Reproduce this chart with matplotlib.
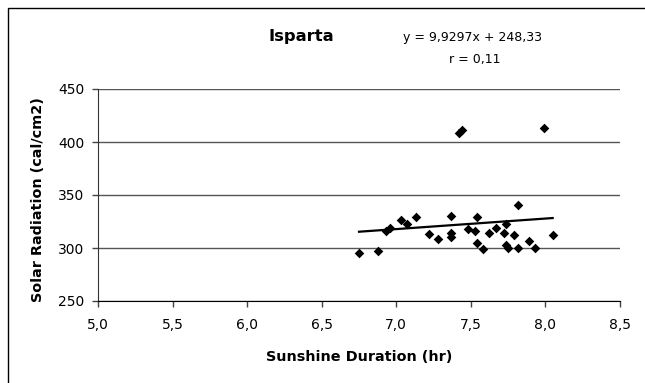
import matplotlib
matplotlib.use("Agg")
import matplotlib.pyplot as plt
import numpy as np
from matplotlib.patches import Rectangle

plt.rcParams['font.family'] = ['DejaVu Sans']

# Data (sunshine duration hr, solar radiation cal/cm2)
sunshine = [6.75, 6.88, 6.93, 6.96, 7.03, 7.07, 7.13, 7.22, 7.28, 7.37, 7.37, 7.37,
            7.48, 7.53, 7.54, 7.54, 7.58, 7.62, 7.67, 7.72, 7.74, 7.74, 7.75, 7.79,
            7.82, 7.82, 7.89, 7.93, 8.05, 7.42, 7.44, 7.99]
radiation = [295.0, 297.5, 316.0, 318.6, 326.4, 322.6, 329.0, 312.9, 308.8, 330.2, 313.8, 310.1,
             317.6, 316.3, 329.0, 304.4, 298.7, 313.8, 318.6, 313.8, 322.6, 302.8, 299.7, 312.3,
             340.3, 299.7, 306.6, 299.7, 312.3, 408.5, 411.5, 413.5]
slope = 9.9297
intercept = 248.33
title = "Isparta"
eq_text = "y = 9,9297x + 248,33"
r_text = "r = 0,11"
xticks = [5.0, 5.5, 6.0, 6.5, 7.0, 7.5, 8.0, 8.5]
yticks = [250, 300, 350, 400, 450]

W, H = 645, 383
fig = plt.figure(figsize=(W/100, H/100), dpi=100)
fig.patch.set_facecolor('white')
ax = fig.add_axes([98.3/W, (H-301)/H, (619.7-98.3)/W, (301-89)/H])

ax.scatter(sunshine, radiation, marker='D', s=24, color='black', zorder=3, linewidths=0)
xs = np.array([min(sunshine), max(sunshine)])
ax.plot(xs, slope*xs + intercept, color='black', lw=1.6, zorder=2)

ax.set_xlim(5.0, 8.5)
ax.set_ylim(250, 450)
ax.set_xticks(xticks)
ax.set_xticklabels([f"{t:.1f}".replace('.', ',') for t in xticks])
ax.set_yticks(yticks)
ax.set_yticklabels([str(t) for t in yticks])
ax.tick_params(axis='both', labelsize=10, length=4, width=1, color='#444444', direction='out')
ax.tick_params(axis='y', pad=6)
ax.tick_params(axis='x', pad=8)
ax.yaxis.grid(True, color='#555555', lw=1)
ax.set_axisbelow(True)
for s in ['top', 'right']:
    ax.spines[s].set_visible(False)
ax.spines['left'].set_color('#333333')
ax.spines['bottom'].set_color('#000000')

fig.text(359/W, 1-356.7/H, "Sunshine Duration (hr)", fontsize=10.4, fontweight='bold',
         ha='center', va='center')
fig.text(38.5/W, 1-199.5/H, "Solar Radiation (cal/cm2)", fontsize=10.4, fontweight='bold',
         ha='center', va='center', rotation=90)

fig.text(301/W, 1-36.4/H, title, fontsize=11.8, fontweight='bold', ha='center', va='center')
fig.text(473/W, 1-37/H, eq_text, fontsize=9, ha='center', va='center')
fig.text(475/W, 1-59.7/H, r_text, fontsize=9, ha='center', va='center')

# outer frame (cropped on right and bottom)
fig.patches.append(Rectangle((7.5/W, -0.05), 1.2, 1 - 7.5/H + 0.05,
                             transform=fig.transFigure, fill=False, ec='black', lw=1))

fig.savefig("out.png", dpi=100)
